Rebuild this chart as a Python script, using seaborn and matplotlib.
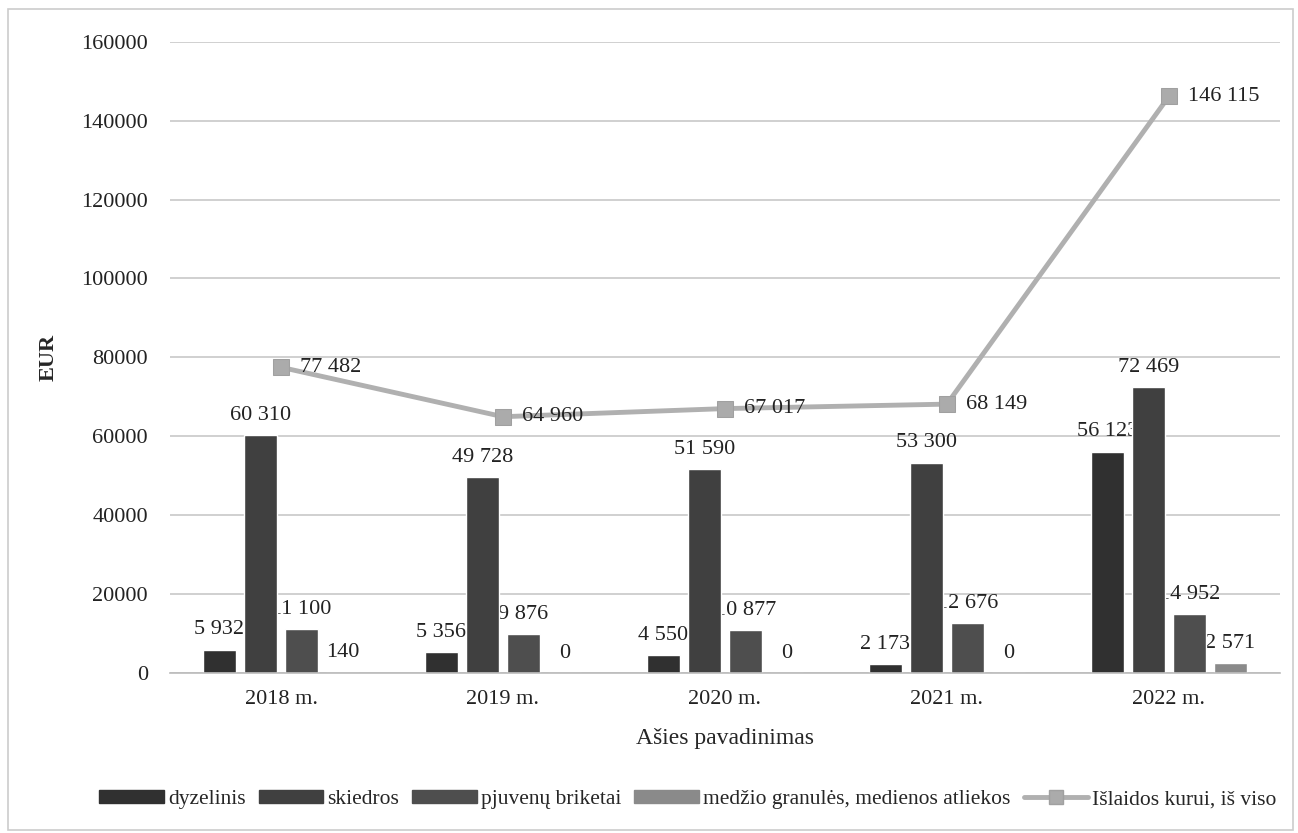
import pandas as pd
import seaborn as sns
import matplotlib.pyplot as plt
import numpy as np
from matplotlib.patches import Patch, Rectangle
from matplotlib.lines import Line2D

# Data
years = ['2018 m.', '2019 m.', '2020 m.', '2021 m.', '2022 m.']
series = ['dyzelinis', 'skiedros', 'pjuvenų briketai', 'medžio granulės, medienos atliekos']
dyzelinis = [5932, 5356, 4550, 2173, 56123]
skiedros = [60310, 49728, 51590, 53300, 72469]
briketai = [11100, 9876, 10877, 12676, 14952]
granules = [140, 0, 0, 0, 2571]
total = [77482, 64960, 67017, 68149, 146115]
line_name = 'Išlaidos kurui, iš viso'

colors = ['#303030', '#404040', '#4e4e4e', '#8a8a8a']
line_color = '#b0b0b0'

df = pd.DataFrame({
    'year': years * 4,
    'series': np.repeat(series, len(years)),
    'value': dyzelinis + skiedros + briketai + granules,
})

sns.set_style('white')
plt.rcParams['font.family'] = ['Liberation Serif', 'DejaVu Serif']

fig = plt.figure(figsize=(12.98, 8.33), dpi=100)
ax = fig.add_axes([0.131, 0.192, 0.855, 0.758])

sns.barplot(data=df, x='year', y='value', hue='series', order=years, hue_order=series,
            palette=colors, width=0.74, gap=0.2, ax=ax, legend=False, zorder=2)

# Line for totals
sns.lineplot(x=np.arange(len(years)), y=total, ax=ax, color=line_color, linewidth=3.5,
             marker='s', markersize=11, markeredgecolor='#a0a0a0', markerfacecolor='#ababab',
             zorder=4)

fmt = lambda v: f'{v:,}'.replace(',', ' ')

# Bar labels (drawn under bars, like the overlapping Excel labels)
for container in ax.containers:
    for bar in container:
        h = bar.get_height()
        ax.text(bar.get_x() + bar.get_width() / 2, h + 2600, fmt(int(round(h))),
                ha='center', va='bottom', fontsize=16, color='#222222', zorder=1.5)

for i, v in enumerate(total):
    ax.text(i + 0.085, v, fmt(v), ha='left', va='center', fontsize=16,
            color='#222222', zorder=5)

ax.set_ylim(0, 160000)
ax.set_xlim(-0.5, len(years) - 0.5)
ax.set_yticks(np.arange(0, 160001, 20000))
ax.set_yticklabels([str(t) for t in range(0, 160001, 20000)])
ax.yaxis.grid(True, color='#c8c8c8', linewidth=1.2, zorder=0)
ax.set_axisbelow(True)
for s in ['top', 'right', 'left']:
    ax.spines[s].set_visible(False)
ax.spines['bottom'].set_color('#bbbbbb')
ax.spines['bottom'].set_linewidth(1.2)
ax.tick_params(axis='y', length=0, labelsize=16, colors='#222222', pad=16)
ax.tick_params(axis='x', length=0, labelsize=16, colors='#222222', pad=12)
ax.set_ylabel('EUR', fontsize=16, fontweight='bold', labelpad=16)
ax.set_xlabel('Ašies pavadinimas', fontsize=17, labelpad=14)

handles = [Patch(facecolor=c, edgecolor=c) for c in colors]
handles.append(Line2D([0], [0], color=line_color, linewidth=3.5, marker='s', markersize=10,
                      markerfacecolor='#ababab', markeredgecolor='#a0a0a0'))
fig.legend(handles, series + [line_name], loc='center', bbox_to_anchor=(0.53, 0.04),
           ncol=5, frameon=False, fontsize=15.5, handlelength=3.0, handleheight=0.55,
           columnspacing=0.6, handletextpad=0.2)

# light chart border
fig.patches.append(Rectangle((0.006, 0.004), 0.99, 0.985, transform=fig.transFigure,
                             fill=False, edgecolor='#cccccc', linewidth=1.2))

fig.savefig('out.png', dpi=100)
